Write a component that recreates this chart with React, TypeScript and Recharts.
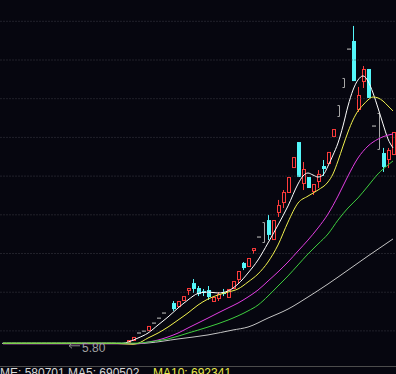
import React from 'react';
import { ComposedChart, Bar, Line, XAxis, YAxis, ReferenceLine, ReferenceDot } from 'recharts';

// ---- data ----
const opens: (number | null)[] = [
  5.80, 5.80, 5.80, 5.80, 5.80, 5.80, 5.80, 5.80, 5.80, 5.80, 5.80, 5.80, 5.80, 5.80, 5.80, 5.80, 5.80, 5.80, 5.80, 5.80, 5.80, 5.80, 5.80, 5.80, 5.80,
  5.82, 5.95, 6.47, 6.59, 6.59, 7.11, 7.43, 7.76, null, 8.40, 8.14, 8.53, 9.18, 9.69, 9.37, 9.18, 9.24, 8.47, 8.66, 9.11, 8.73, 9.31, 9.89, 10.99, 10.73, 11.76,
  12.67, 12.28, 13.76, 12.47, 14.22, 14.86, 15.51, 17.12, 18.80, 16.09, 16.54, 15.57, 16.22, 17.25, 17.38, 19.13, 20.42, 22.29, 24.81, 25.33, 20.87, 22.68, 23.52,
  19.84, 18.29, 18.09, 17.64, 17.96,
];
const highs: (number | null)[] = [
  5.80, 5.80, 5.80, 5.80, 5.80, 5.80, 5.80, 5.80, 5.80, 5.80, 5.80, 5.80, 5.80, 5.80, 5.80, 5.80, 5.80, 5.80, 5.80, 5.80, 5.80, 5.80, 5.80, 5.80, 5.80,
  6.01, 6.21, 6.47, 6.59, 6.92, 7.11, 7.43, 7.76, null, 8.53, 8.53, 8.85, 9.37, 9.95, 9.50, 9.31, 9.50, 8.79, 9.11, 9.31, 9.31, 9.82, 10.47, 11.05, 11.31, 11.95,
  12.67, 13.63, 14.09, 13.76, 15.06, 15.70, 16.54, 17.83, 18.80, 17.51, 16.54, 16.09, 16.99, 17.64, 18.16, 19.64, 21.19, 22.94, 24.81, 26.30, 22.36, 23.71, 23.52,
  19.84, 20.68, 18.42, 18.42, 19.45,
];
const lows: (number | null)[] = [
  5.80, 5.80, 5.80, 5.80, 5.80, 5.80, 5.80, 5.80, 5.80, 5.80, 5.80, 5.80, 5.80, 5.80, 5.80, 5.80, 5.80, 5.80, 5.80, 5.80, 5.80, 5.80, 5.80, 5.80, 5.80,
  5.82, 5.95, 6.47, 6.59, 6.59, 7.11, 7.43, 7.76, null, 7.89, 8.14, 8.53, 8.92, 9.05, 8.85, 8.85, 8.60, 8.47, 8.53, 8.85, 8.73, 9.31, 9.69, 10.53, 10.73, 11.57,
  12.67, 12.28, 12.47, 12.47, 13.96, 14.54, 15.51, 17.12, 16.54, 15.70, 15.83, 15.38, 15.83, 16.61, 17.38, 19.13, 20.42, 22.29, 24.81, 22.74, 20.74, 22.29, 21.65,
  19.84, 18.29, 16.87, 17.12, 17.96,
];
const closes: (number | null)[] = [
  5.80, 5.80, 5.80, 5.80, 5.80, 5.80, 5.80, 5.80, 5.80, 5.80, 5.80, 5.80, 5.80, 5.80, 5.80, 5.80, 5.80, 5.80, 5.80, 5.80, 5.80, 5.80, 5.80, 5.80, 5.80,
  6.01, 6.21, 6.47, 6.59, 6.92, 7.11, 7.43, 7.76, null, 8.01, 8.53, 8.85, 9.37, 9.31, 8.98, 9.05, 8.79, 8.79, 8.98, 8.98, 9.31, 9.82, 10.47, 10.66, 11.31, 11.95,
  12.67, 13.63, 12.80, 13.76, 14.73, 15.57, 16.54, 17.83, 16.54, 17.06, 15.83, 16.09, 16.74, 17.06, 18.16, 19.64, 21.19, 22.94, 24.81, 22.74, 21.84, 23.52, 21.65,
  19.84, 20.68, 17.19, 18.29, 19.45,
];
// 1 = one-price / special day drawn in gray
const grayDay: number[] = [
  1, 1, 1, 1, 1, 1, 1, 1, 1, 1, 1, 1, 1, 1, 1, 1, 1, 1, 1, 1, 1, 1, 1, 1, 1,
  0, 0, 1, 1, 0, 1, 1, 1, 0, 0, 0, 0, 0, 0, 0, 0, 0, 0, 0, 0, 0, 0, 0, 0, 0, 0,
  1, 1, 0, 0, 0, 0, 0, 0, 0, 0, 0, 0, 0, 0, 0, 0, 1, 1, 1, 0, 0, 0, 0,
  1, 1, 0, 0, 0,
];

const ma5Pts: [number, number][] = [
  [0, 5.8], [24, 5.8], [25, 5.88], [27, 6.14], [29, 6.46], [31, 6.98], [33, 7.5], [35, 8.08], [37, 8.6], [39, 9.02],
  [41, 9.11], [43, 9.05], [45, 9.18], [47, 9.63], [49, 10.34], [51, 11.18], [53, 12.28], [55, 13.44], [57, 14.67], [59, 16.09],
  [60, 16.61], [61, 16.8], [62, 16.67], [63, 16.54], [64, 16.67], [65, 17.25], [66, 17.96], [67, 18.74], [68, 19.84], [69, 21.13],
  [70, 22.16], [71, 22.81], [72, 23.07], [73, 22.74], [74, 21.97], [75, 21.0], [76, 19.97], [77, 19.0], [78, 18.42],
];
const ma10Pts: [number, number][] = [
  [0, 5.8], [22, 5.8], [26, 5.74], [27, 5.8], [29, 6.14], [31, 6.46], [33, 6.85], [35, 7.3], [37, 7.76], [39, 8.27], [41, 8.66],
  [43, 8.92], [45, 9.11], [47, 9.31], [49, 9.76], [51, 10.28], [53, 11.05], [55, 12.15], [57, 13.63], [59, 14.86], [61, 15.31],
  [63, 15.7], [65, 16.22], [66, 16.74], [67, 17.58], [68, 18.54], [69, 19.45], [70, 20.23], [71, 20.81], [72, 21.19], [73, 21.52],
  [74, 21.71], [75, 21.65], [76, 21.45], [77, 21.13], [78, 20.81],
];
const ma20Pts: [number, number][] = [
  [0, 5.77], [27, 5.77], [29, 5.88], [31, 6.01], [33, 6.21], [35, 6.46], [37, 6.79], [39, 7.11], [41, 7.43], [43, 7.76],
  [45, 8.08], [47, 8.4], [49, 8.79], [51, 9.24], [53, 9.82], [55, 10.41], [57, 11.05], [59, 11.76], [61, 12.47], [63, 13.25],
  [65, 14.15], [67, 15.31], [69, 16.61], [71, 17.77], [73, 18.54], [75, 18.99], [77, 19.25], [78, 19.32],
];
const ma30Pts: [number, number][] = [
  [0, 5.81], [27, 5.81], [29, 5.88], [33, 6.08], [37, 6.46], [41, 6.85], [45, 7.3], [49, 7.89], [51, 8.27], [53, 8.85],
  [55, 9.5], [57, 10.15], [59, 10.86], [61, 11.57], [63, 12.21], [65, 12.86], [67, 13.76], [69, 14.54], [71, 15.19], [73, 15.96],
  [75, 16.74], [77, 17.32], [78, 17.58],
];
const ma60Pts: [number, number][] = [
  [0, 5.78], [27, 5.78], [29, 5.82], [35, 6.08], [41, 6.34], [46, 6.66], [49, 6.85], [53, 7.43], [57, 8.01], [61, 8.79],
  [65, 9.63], [69, 10.53], [73, 11.44], [78, 12.54],
];

const gridTicks = [6.6, 9.1, 11.6, 14.1, 16.6, 19.1, 21.6, 24.1, 26.6];
const lowLabel = { index: 13, price: 5.8, text: '5.80' };
const footer = { vol: 'ME: 580701', ma5: 'MA5: 690502', ma10: 'MA10: 692341' };

// ---- table built from the arrays ----
const lookup = (pts: [number, number][], i: number) => {
  const f = pts.find((p) => p[0] === i);
  return f ? f[1] : null;
};
const data = opens.map((o, i) => {
  const hi = highs[i];
  const lo = lows[i];
  return {
    i,
    o,
    h: hi,
    l: lo,
    c: closes[i],
    gray: grayDay[i],
    range: hi == null || lo == null ? null : [lo, hi > lo ? hi : lo + 0.02],
    ma5: lookup(ma5Pts, i),
    ma10: lookup(ma10Pts, i),
    ma20: lookup(ma20Pts, i),
    ma30: lookup(ma30Pts, i),
    ma60: lookup(ma60Pts, i),
  };
});

const RED = '#ff3c3c';
const CYAN = '#54f6fa';
const GRAY = '#a8a8a8';

const Candle = (props: any) => {
  const { x, y, width, height, payload } = props;
  if (!payload || payload.range == null || payload.o == null) return null;
  const [rLo, rHi] = payload.range as number[];
  const span = rHi - rLo;
  const py = (p: number) => y + ((rHi - p) / span) * height;
  const cx = Math.round(x + width / 2);
  const o = payload.o as number;
  const c = payload.c as number;
  const top = py(Math.max(o, c));
  const bot = py(Math.min(o, c));
  const yh = py(payload.h);
  const yl = py(payload.l);
  const wx = cx - 0.5;
  if (payload.gray) {
    if (Math.abs(o - c) < 1e-6) {
      return <rect x={cx - 2} y={top - 0.5} width={4} height={1.2} fill={GRAY} />;
    }
    return (
      <path
        d={`M${cx - 1.5},${top + 0.5} H${cx + 0.5} V${bot - 0.5} H${cx - 1.5}`}
        stroke={GRAY}
        strokeWidth={1}
        fill="none"
      />
    );
  }
  if (c >= o) {
    return (
      <g>
        {yh < top - 0.5 && <line x1={wx} x2={wx} y1={yh} y2={top} stroke={RED} strokeWidth={1} />}
        {yl > bot + 0.5 && <line x1={wx} x2={wx} y1={bot} y2={yl} stroke={RED} strokeWidth={1} />}
        <rect x={cx - 1.5} y={top + 0.5} width={3} height={Math.max(bot - top - 1, 1)} stroke={RED} strokeWidth={1} fill="none" />
      </g>
    );
  }
  return (
    <g>
      <line x1={wx} x2={wx} y1={yh} y2={yl} stroke={CYAN} strokeWidth={1} />
      <rect x={cx - 2} y={top} width={4} height={Math.max(bot - top, 1.5)} fill={CYAN} />
    </g>
  );
};

const LowMark = (props: any) => {
  const { cx, cy } = props;
  if (cx == null || cy == null) return null;
  return (
    <g>
      <path d={`M${cx + 12},${cy + 2.5} H${cx + 1}`} stroke="#8a8a8a" strokeWidth={1} fill="none" />
      <path d={`M${cx + 4},${cy} L${cx + 1},${cy + 2.5} L${cx + 4},${cy + 5}`} stroke="#8a8a8a" strokeWidth={1} fill="none" />
      <text x={cx + 14} y={cy + 9} fontSize={12} fill="#a0a0a0" fontFamily="'Liberation Sans', Arial, sans-serif">
        {lowLabel.text}
      </text>
    </g>
  );
};

export default function App() {
  return (
    <div style={{ position: 'absolute', left: 0, top: 0, width: 396, height: 374, background: '#06060f', overflow: 'hidden' }}>
      <ComposedChart width={396} height={366} data={data} margin={{ top: 0, right: 0.5, bottom: 0, left: 0.5 }}>
        <XAxis dataKey="i" type="category" hide />
        <YAxis type="number" domain={[4.333, 27.976]} allowDataOverflow hide />
        {gridTicks.map((t) => (
          <ReferenceLine key={t} y={t} stroke="#3c3c46" strokeDasharray="1 2" />
        ))}
        <Line dataKey="ma5" stroke="#ffffff" strokeWidth={1} dot={false} connectNulls type="monotone" isAnimationActive={false} />
        <Bar dataKey="range" barSize={4} shape={<Candle />} isAnimationActive={false} />
        <Line dataKey="ma60" stroke="#c4c4c4" strokeWidth={1} dot={false} connectNulls type="monotone" isAnimationActive={false} />
        <Line dataKey="ma20" stroke="#e23ee2" strokeWidth={1} dot={false} connectNulls type="monotone" isAnimationActive={false} />
        <Line dataKey="ma10" stroke="#f2f24e" strokeWidth={1} dot={false} connectNulls type="monotone" isAnimationActive={false} />
        <Line dataKey="ma30" stroke="#3fcf3f" strokeWidth={1} dot={false} connectNulls type="monotone" isAnimationActive={false} />
        <ReferenceDot x={lowLabel.index} y={lowLabel.price} r={0} shape={<LowMark />} />
      </ComposedChart>
      <svg width={396} height={8} style={{ position: 'absolute', left: 0, top: 366 }}>
        <line x1={0} x2={396} y1={0.5} y2={0.5} stroke="#4c4c4c" strokeWidth={1} />
        <text y={10.6} fontSize={12} fontFamily="'Liberation Sans', Arial, sans-serif">
          <tspan x={0} fill="#d8d8d8">{footer.vol}</tspan>
          <tspan x={68} fill="#d8d8d8">{footer.ma5}</tspan>
          <tspan x={153} fill="#e8e84a">{footer.ma10}</tspan>
        </text>
      </svg>
    </div>
  );
}
